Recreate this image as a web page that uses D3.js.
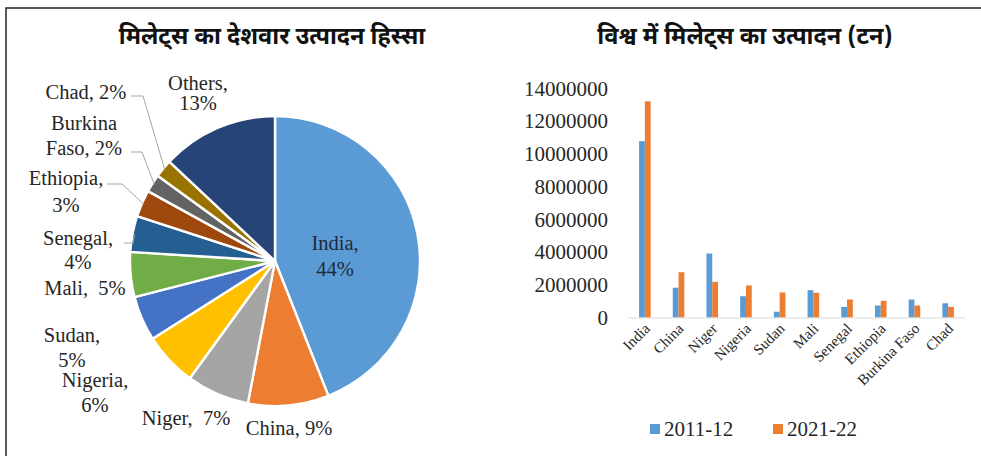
<!DOCTYPE html>
<html>
<head>
<meta charset="utf-8">
<script src="https://cdn.jsdelivr.net/npm/d3@7"></script>
<style>
  html, body { margin: 0; padding: 0; background: #fff; }
  svg { display: block; }
  .serif { font-family: "Liberation Serif", "Times New Roman", serif; }
  .title { font-family: "Noto Sans Devanagari", "Lohit Devanagari", "Mangal", "Nirmala UI", "Noto Sans", sans-serif; font-weight: bold; }
</style>
</head>
<body>
<svg id="chart" width="981" height="456"></svg>
<script>
// Share of millet production by country (%)
const pieCountries = ["India", "China", "Niger", "Nigeria", "Sudan", "Mali", "Senegal", "Ethiopia", "Burkina Faso", "Chad", "Others"];
const pieShares = [44, 9, 7, 6, 5, 5, 4, 3, 2, 2, 13];
const pieColors = ["#5B9BD5", "#ED7D31", "#A5A5A5", "#FFC000", "#4472C4", "#70AD47", "#255E91", "#9E480E", "#636363", "#997300", "#264478"];

// World millet production (tonnes)
const barCountries = ["India", "China", "Niger", "Nigeria", "Sudan", "Mali", "Senegal", "Ethiopia", "Burkina Faso", "Chad"];
const seriesNames = ["2011-12", "2021-22"];
const prod2011 = [10780000, 1820000, 3910000, 1300000, 350000, 1670000, 650000, 730000, 1100000, 870000];
const prod2021 = [13220000, 2770000, 2180000, 1960000, 1530000, 1510000, 1100000, 1020000, 730000, 650000];
const seriesColors = ["#5B9BD5", "#ED7D31"];
const yTicks = [0, 2000000, 4000000, 6000000, 8000000, 10000000, 12000000, 14000000];

const leftTitle = "मिलेट्स का देशवार उत्पादन हिस्सा";
const rightTitle = "विश्व में मिलेट्स का उत्पादन (टन)";

const svg = d3.select("#chart");
const textColor = "#262626";
const nb = "\u00A0";

// frame (top and left rules)
svg.append("path")
  .attr("d", "M6,460 L6,8 L985,8")
  .attr("fill", "none").attr("stroke", "#222").attr("stroke-width", 1.5);

// titles
svg.append("text").attr("class", "title")
  .attr("x", 272).attr("y", 44).attr("text-anchor", "middle")
  .attr("font-size", 23.5).attr("fill", "#111").text(leftTitle);
svg.append("text").attr("class", "title")
  .attr("x", 745).attr("y", 44).attr("text-anchor", "middle")
  .attr("font-size", 23.5).attr("fill", "#111").text(rightTitle);

// ---------- pie ----------
const cx = 275, cy = 261, r = 145;
const pie = d3.pie().sort(null).value(d => d.v);
const pieData = pie(pieCountries.map((c, i) => ({ c, v: pieShares[i], color: pieColors[i] })));
const arc = d3.arc().innerRadius(0).outerRadius(r);
const gPie = svg.append("g").attr("transform", `translate(${cx},${cy})`);
gPie.selectAll("path").data(pieData).join("path")
  .attr("d", arc)
  .attr("fill", d => d.data.color)
  .attr("stroke", "#fff").attr("stroke-width", 2.4).attr("stroke-linejoin", "round");

// label placement per slice: lines of text, anchor position, optional leader line
const labelSpec = {
  "India":        { lines: ["India,", "44%"], x: 335, y: [250, 276] },
  "China":        { lines: ["China, 9%"], x: 289, y: [435] },
  "Niger":        { lines: ["Niger," + nb + nb + "7%"], x: 186, y: [425] },
  "Nigeria":      { lines: ["Nigeria,", "6%"], x: 95, y: [387, 412] },
  "Sudan":        { lines: ["Sudan,", "5%"], x: 72, y: [342, 367] },
  "Mali":         { lines: ["Mali," + nb + nb + "5%"], x: 85, y: [295] },
  "Senegal":      { lines: ["Senegal,", "4%"], x: 78, y: [245, 269], leader: [[124, 243], [133, 243]] },
  "Ethiopia":     { lines: ["Ethiopia,", "3%"], x: 66, y: [185, 212], leader: [[107, 184], [122, 184]] },
  "Burkina Faso": { lines: ["Burkina", "Faso, 2%"], x: 84, y: [130, 155], leader: [[131, 152], [142, 152]] },
  "Chad":         { lines: ["Chad, 2%"], x: 86, y: [99], leader: [[131, 96], [143, 96]] },
  "Others":       { lines: ["Others,", "13%"], x: 198, y: [90, 110] }
};

const gLab = svg.append("g").attr("class", "serif");
pieData.forEach(d => {
  const s = labelSpec[d.data.c];
  if (s.leader) {
    // leader runs from the label to the middle of the slice's outer edge
    const mid = (d.startAngle + d.endAngle) / 2;
    const ex = cx + Math.sin(mid) * (r - 2);
    const ey = cy - Math.cos(mid) * (r - 2);
    const pts = s.leader.concat([[ex, ey]]);
    gLab.append("path")
      .attr("d", d3.line()(pts))
      .attr("fill", "none").attr("stroke", "#A6A6A6").attr("stroke-width", 1);
  }
  s.lines.forEach((t, i) => {
    gLab.append("text")
      .attr("x", s.x).attr("y", s.y[i])
      .attr("text-anchor", "middle")
      .attr("font-size", 20.5)
      .attr("fill", d.data.c === "India" ? "#1f2a3a" : textColor)
      .text(t);
  });
});

// ---------- grouped bars ----------
const x0 = d3.scaleBand().domain(barCountries).range([628, 965]).paddingInner(0.656).paddingOuter(0.328);
const x1 = d3.scaleBand().domain(seriesNames).range([0, x0.bandwidth()]);
const y = d3.scaleLinear().domain([0, 14000000]).range([317.5, 88.5]);

const gBars = svg.append("g");
const rows = barCountries.map((c, i) => ({ c, vals: [prod2011[i], prod2021[i]] }));
gBars.selectAll("g").data(rows).join("g")
  .attr("transform", d => `translate(${x0(d.c)},0)`)
  .selectAll("rect")
  .data(d => d.vals.map((v, k) => ({ s: seriesNames[k], v, color: seriesColors[k] })))
  .join("rect")
  .attr("x", d => x1(d.s))
  .attr("width", x1.bandwidth())
  .attr("y", d => y(d.v))
  .attr("height", d => y(0) - y(d.v))
  .attr("fill", d => d.color);

// y axis
const yAxis = svg.append("g").attr("class", "serif")
  .attr("transform", "translate(628,0)")
  .call(d3.axisLeft(y).tickValues(yTicks).tickSize(0).tickPadding(20).tickFormat(d3.format("d")));
yAxis.select(".domain").remove();
yAxis.selectAll("text").attr("font-size", 21).attr("fill", textColor).attr("font-family", "Liberation Serif, serif");

// x axis
const xAxis = svg.append("g").attr("class", "serif")
  .attr("transform", `translate(0,${y(0)})`)
  .call(d3.axisBottom(x0).tickSize(0).tickSizeOuter(0).tickPadding(0));
xAxis.select(".domain").attr("stroke", "#D9D9D9").attr("stroke-width", 1.2)
  .attr("d", "M628,0.5H965");
xAxis.selectAll("text")
  .attr("font-size", 15).attr("fill", textColor).attr("font-family", "Liberation Serif, serif")
  .attr("text-anchor", "end")
  .attr("dy", null)
  .attr("transform", "translate(6,12) rotate(-45)")
  .attr("x", 0).attr("y", 0);

// legend
const legend = svg.append("g").attr("class", "serif");
const legendX = [650, 773];
seriesNames.forEach((s, i) => {
  legend.append("rect").attr("x", legendX[i]).attr("y", 424).attr("width", 10).attr("height", 10).attr("fill", seriesColors[i]);
  legend.append("text").attr("x", legendX[i] + 14).attr("y", 436)
    .attr("font-size", 21).attr("fill", textColor).text(s);
});
</script>
</body>
</html>
